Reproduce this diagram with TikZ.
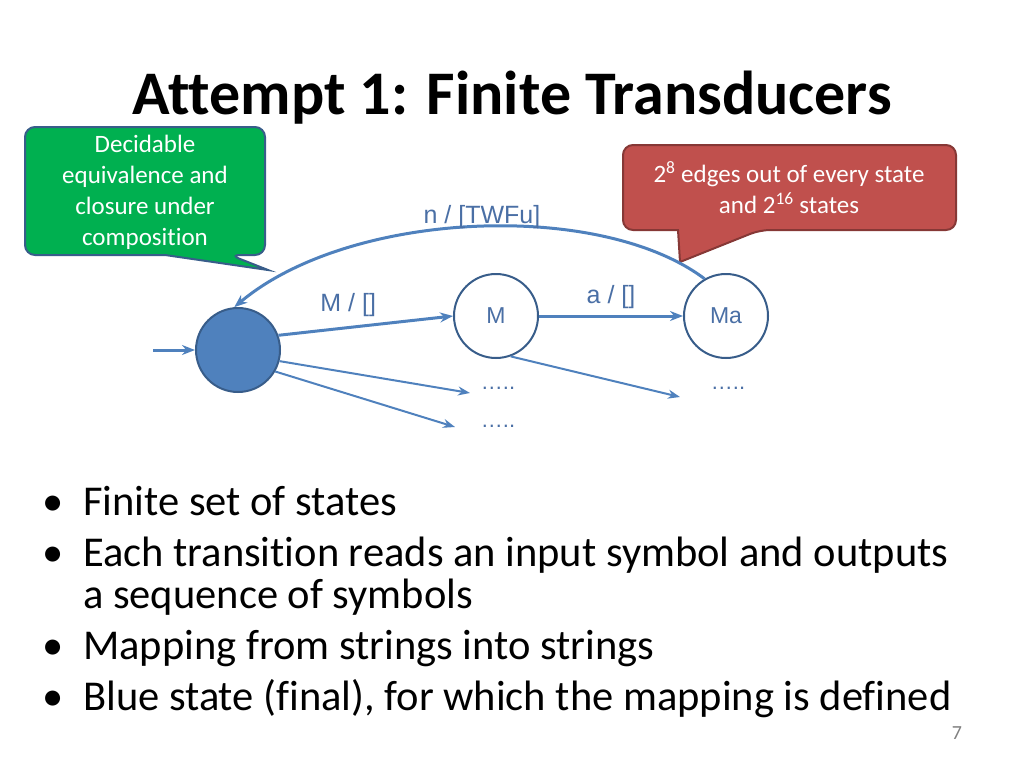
\documentclass[tikz,border=0pt]{standalone}
\usepackage{fontspec}
\setmainfont{Carlito}[Ligatures=NoCommon]
\newfontfamily\arial{Liberation Sans}
\usetikzlibrary{arrows.meta}
\definecolor{sblue}{HTML}{4F81BD}
\definecolor{sdark}{HTML}{385D8A}
\definecolor{sgreen}{HTML}{00B050}
\definecolor{sred}{HTML}{C0504D}
\definecolor{lbl}{HTML}{4A6FA5}
\begin{document}
\begin{tikzpicture}[x=1pt,y=-1pt,
  st/.style={circle,draw=sdark,line width=2pt,minimum size=84pt,inner sep=0pt},
  tr/.style={draw=sblue,line width=3pt,-{Stealth[length=13pt,width=10pt]}},
  thin tr/.style={draw=sblue,line width=2pt,-{Stealth[length=12pt,width=9pt]}},
  lab/.style={font=\arial\fontsize{25}{28}\selectfont,text=lbl},
  call/.style={font=\fontsize{25}{31}\selectfont,text=white,align=center}]
\useasboundingbox (0,0) rectangle (1024,768);
\node[font=\bfseries\fontsize{62}{70}\selectfont] (title) at (512,98) {Attempt 1: Finite Transducers};
% green callout
\draw[fill=sgreen,draw=sdark,line width=2pt,rounded corners=10pt]
  (25,127) -- (265,127) -- (265,255) -- (230,255) [sharp corners] -- (268,270) -- (165,255) [rounded corners=10pt] -- (25,255) -- cycle;
\node[call] (gtext) at (145,192) {Decidable\\equivalence and\\closure under\\composition};
% red callout
\draw[fill=sred,draw=sred!70!black,line width=2pt,rounded corners=10pt]
  (623,145) -- (956,145) -- (956,230) -- (760,230) [sharp corners] -- (680,262) -- (678,230) [rounded corners=10pt] -- (623,230) -- cycle;
\node[call] (rtext) at (789,188) {2\textsuperscript{8} edges out of every state\\and 2\textsuperscript{16} states};
% states
\node[st,fill=sblue] (s0) at (238,350) {};
\node[st,fill=white,draw=sdark] (m) at (496,316) {\arial\fontsize{23}{26}\selectfont\color{lbl}M};
\node[st,fill=white,draw=sdark] (ma) at (726,316) {\arial\fontsize{23}{26}\selectfont\color{lbl}Ma};
\coordinate (in) at (153,350);
\draw[tr] (in) -- (s0);
\draw[tr] (s0.20) -- (m.west) node[lab,pos=0.4,above=6pt] {M / []};
\draw[tr] (m) -- (ma) node[lab,midway,above=2pt] {a / []};
\draw[tr] (ma.120) .. controls (600,200) and (350,210) .. (s0.95);
\node[lab] (nl) at (482,217) {n / [TWFu]};
\node[font=\arial\fontsize{22}{24}\selectfont,text=lbl] (d1) at (498,388) {…..};
\node[font=\arial\fontsize{22}{24}\selectfont,text=lbl] (d2) at (498,426) {…..};
\node[font=\arial\fontsize{22}{24}\selectfont,text=lbl] (d3) at (728,388) {…..};
\coordinate (e1) at (470,393);
\coordinate (e2) at (455,427);
\coordinate (e3) at (680,397);
\draw[thin tr] (s0.-15) -- (e1);
\draw[thin tr] (s0.-30) -- (e2);
\draw[thin tr] (m.-70) -- (e3);
% bullets
\begin{scope}[every node/.style={anchor=base west,font=\fontsize{42.5}{48}\selectfont,inner sep=0pt}]
\node (b1) at (83,515) {Finite set of states};
\node (b2) at (83,566) {Each transition reads an input symbol and outputs};
\node (b2b) at (83,608) {a sequence of symbols};
\node (b3) at (83,659) {Mapping from strings into strings};
\node (b4) at (83,710) {Blue state (final), for which the mapping is defined};
\node (p1) at (42,515) {•};
\node (p2) at (42,566) {•};
\node (p3) at (42,659) {•};
\node (p4) at (42,710) {•};
\end{scope}
\node[text=gray,font=\fontsize{20}{22}\selectfont] (pg) at (957,733) {7};
\end{tikzpicture}
\end{document}
